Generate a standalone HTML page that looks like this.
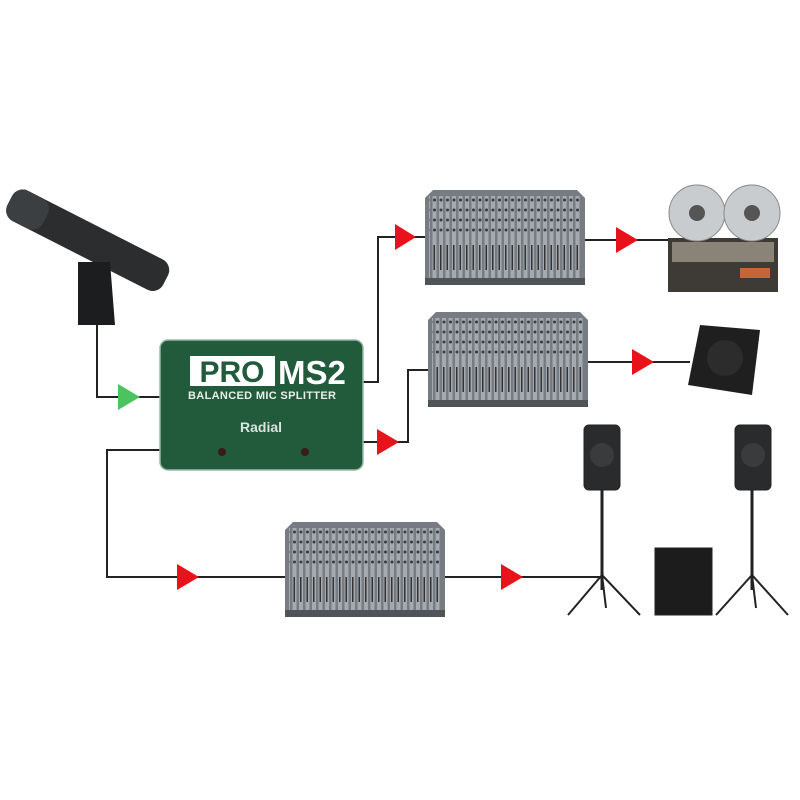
<!DOCTYPE html>
<html><head><style>body{margin:0;background:#fff}svg{display:block}</style></head><body>
<svg width="800" height="800" viewBox="0 0 800 800" xmlns="http://www.w3.org/2000/svg" font-family="Liberation Sans, sans-serif">
<defs>
<pattern id="ch" width="6.5" height="90" patternUnits="userSpaceOnUse">
<rect x="1" y="0" width="4" height="90" fill="#a4aab0"/>
<circle cx="3" cy="10" r="1.5" fill="#3a3e43"/><circle cx="3" cy="20" r="1.5" fill="#3a3e43"/><circle cx="3" cy="30" r="1.5" fill="#3a3e43"/><circle cx="3" cy="40" r="1.5" fill="#3a3e43"/>
<rect x="2" y="55" width="1.5" height="25" fill="#333"/>
</pattern>
<g id="mixer">
<path d="M0 8 L8 0 L152 0 L160 8 L160 95 L0 95Z" fill="#767c82"/>
<rect x="4" y="6" width="152" height="84" fill="url(#ch)"/>
<rect x="0" y="88" width="160" height="7" fill="#4f5459"/>
</g>
</defs>
<g stroke="#222" stroke-width="2" fill="none">
<polyline points="97,325 97,397 160,397"/>
<polyline points="362,382 378,382 378,237 425,237"/>
<line x1="585" y1="240" x2="668" y2="240"/>
<polyline points="362,442 408,442 408,370 428,370"/>
<line x1="585" y1="362" x2="690" y2="362"/>
<polyline points="160,450 107,450 107,577 285,577"/>
<line x1="445" y1="577" x2="600" y2="577"/>
</g>
<polygon points="118,384 140,397 118,410" fill="#4cc35e"/>
<g fill="#e8121a">
<polygon points="395,224 416,237 395,250"/>
<polygon points="616,227 638,240 616,253"/>
<polygon points="377,429 399,442 377,455"/>
<polygon points="632,349 654,362 632,375"/>
<polygon points="177,564 199,577 177,590"/>
<polygon points="501,564 523,577 501,590"/>
</g>
<g transform="rotate(27 85 240)">
<rect x="0" y="222" width="175" height="34" rx="12" fill="#2b2d2f"/>
<rect x="0" y="222" width="40" height="34" rx="12" fill="#3c3f42"/>
</g>
<path d="M78 262 L110 262 L115 325 L78 325Z" fill="#1c1d1f"/>
<rect x="160" y="340" width="203" height="130" rx="8" fill="#225a3c" stroke="#9ab8a6" stroke-width="1.5"/>
<rect x="190" y="356" width="85" height="30" fill="#fff"/>
<text x="232" y="382" font-size="30" font-weight="bold" text-anchor="middle" fill="#225a3c">PRO</text>
<text x="278" y="384" font-size="33" font-weight="bold" fill="#fff">MS2</text>
<text x="188" y="399" font-size="11" font-weight="bold" fill="#e8efe9" textLength="148">BALANCED MIC SPLITTER</text>
<text x="240" y="432" font-size="14" font-weight="bold" fill="#d8e4dc">Radial</text>
<circle cx="222" cy="452" r="4" fill="#3a1a1a"/><circle cx="305" cy="452" r="4" fill="#3a1a1a"/>
<use href="#mixer" x="425" y="190"/>
<use href="#mixer" x="428" y="312"/>
<use href="#mixer" x="285" y="522"/>
<rect x="668" y="238" width="110" height="54" fill="#3e3a36"/>
<rect x="672" y="242" width="102" height="20" fill="#8a8478"/>
<rect x="740" y="268" width="30" height="10" fill="#c8643a"/>
<circle cx="697" cy="213" r="28" fill="#c9cccf" stroke="#888"/>
<circle cx="697" cy="213" r="8" fill="#555"/>
<circle cx="752" cy="213" r="28" fill="#c9cccf" stroke="#888"/>
<circle cx="752" cy="213" r="8" fill="#555"/>
<polygon points="700,325 760,330 752,395 688,385" fill="#1f1f1f"/>
<circle cx="725" cy="358" r="18" fill="#2c2c2c"/>
<g fill="#222" stroke="#222">
<rect x="584" y="425" width="36" height="65" rx="5" fill="#2a2b2d"/>
<line x1="602" y1="490" x2="602" y2="590" stroke-width="3"/>
<line x1="602" y1="575" x2="568" y2="615" stroke-width="2"/>
<line x1="602" y1="575" x2="640" y2="615" stroke-width="2"/>
<line x1="602" y1="575" x2="606" y2="608" stroke-width="2"/>
<rect x="735" y="425" width="36" height="65" rx="5" fill="#2a2b2d"/>
<line x1="752" y1="490" x2="752" y2="590" stroke-width="3"/>
<line x1="752" y1="575" x2="716" y2="615" stroke-width="2"/>
<line x1="752" y1="575" x2="788" y2="615" stroke-width="2"/>
<line x1="752" y1="575" x2="756" y2="608" stroke-width="2"/>
<rect x="655" y="548" width="57" height="67" fill="#1c1c1c"/>
</g>
<circle cx="602" cy="455" r="12" fill="#3a3b3d"/><circle cx="753" cy="455" r="12" fill="#3a3b3d"/>
</svg>
</body></html>
